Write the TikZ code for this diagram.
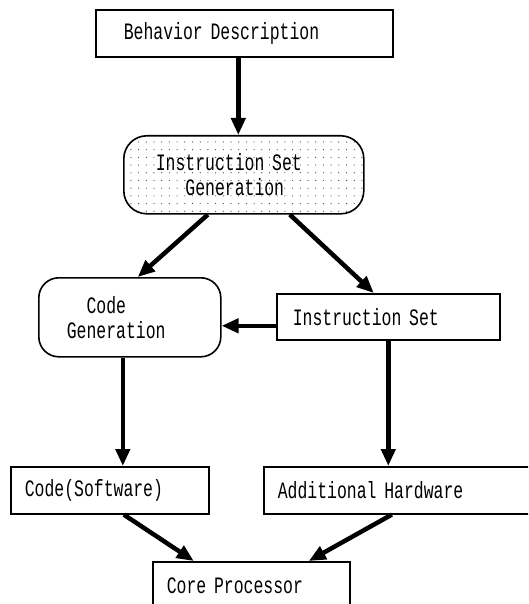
\documentclass[tikz,border=0pt]{standalone}
\usepackage{fontspec}
\newfontfamily\diafont[FakeStretch=0.70]{Liberation Mono}
\usetikzlibrary{arrows.meta,patterns.meta}
\begin{document}
\begin{tikzpicture}[x=1pt,y=-1pt,
  box/.style={draw, line width=1.6pt, inner ysep=0pt, align=left, anchor=north west,
    font=\diafont\fontsize{23.5pt}{25pt}\selectfont},
  arr/.style={line width=4.5pt, -{Triangle[length=17pt,width=14pt]}}]
\useasboundingbox (0,0) rectangle (528,604);
\clip (0,0) rectangle (528,604);

\node[box, minimum width=297pt, minimum height=47pt, text width=241pt, inner xsep=28pt] (bd) at (95,9) {Behavior Description};
\node[box, rounded corners=23pt, pattern={Dots[distance=7.7pt,radius=0.6pt]}, pattern color=black!75,
  minimum width=240pt, minimum height=78pt, text width=176pt, inner xsep=32pt] (isg) at (123,135)
  {Instruction Set\\\hphantom{Gen}Generation};
\node[box, rounded corners=20pt, minimum width=182pt, minimum height=79pt, text width=126pt, inner xsep=28pt] (cg) at (38,277)
  {\hphantom{Ge}Code\\Generation};
\node[box, minimum width=223pt, minimum height=46pt, text width=191pt, inner xsep=16pt] (is) at (276,293) {Instruction Set};
\node[box, minimum width=198pt, minimum height=47pt, text width=170pt, inner xsep=14pt] (cs) at (10,466) {Code(Software)};
\node[box, minimum width=280pt, minimum height=47pt, text width=252pt, inner xsep=14pt] (ah) at (263,466) {Additional Hardware};
\node[box, minimum width=197pt, minimum height=47pt, text width=169pt, inner xsep=14pt] (cp) at (152,561) {Core Processor};

\draw[arr] ([xshift=-6pt]bd.south) -- ([xshift=-6pt]bd.south |- isg.north);
\draw[arr] ([xshift=-36pt]isg.south) -- ([xshift=8pt]cg.north);
\draw[arr] ([xshift=46pt]isg.south) -- ([xshift=-14.5pt]is.north);
\draw[arr] ([yshift=-9pt]is.west) -- ([yshift=-9pt]is.west -| cg.east);
\draw[arr] ([xshift=-7pt]cg.south) -- ([xshift=-7pt]cg.south |- cs.north);
\draw[arr] (is.south) -- (is.south |- ah.north);
\draw[arr] ([xshift=14pt]cs.south) -- ([xshift=-57.5pt]cp.north);
\draw[arr] ([xshift=-12pt]ah.south) -- ([xshift=57.5pt]cp.north);
\end{tikzpicture}
\end{document}
